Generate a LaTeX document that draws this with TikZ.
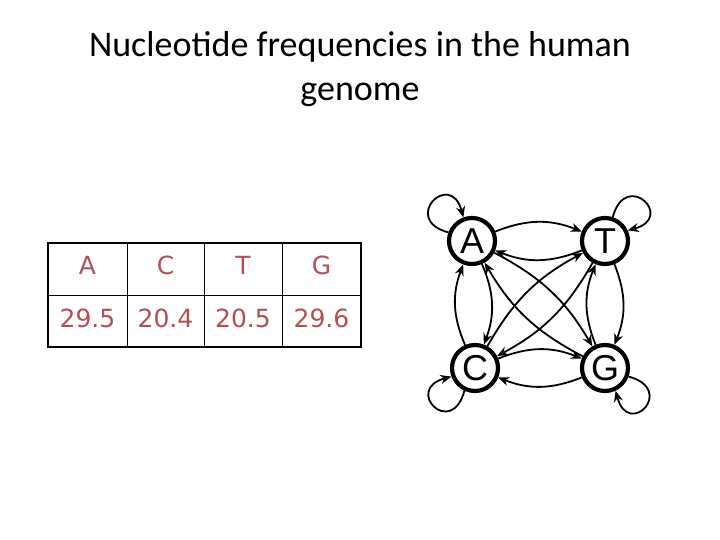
\documentclass[tikz,border=0pt]{standalone}
\usepackage{fontspec}
\setmainfont{Carlito}
\newfontfamily\tabfont{DejaVu Sans}
\newfontfamily\nodefont{Liberation Sans}
\usetikzlibrary{arrows.meta}
\definecolor{tabred}{RGB}{176,80,86}
\begin{document}
\begin{tikzpicture}[x=1pt,y=-1pt,
  nuc/.style={circle,draw,line width=4.2pt,minimum size=46pt,inner sep=0pt,font=\nodefont\fontsize{36}{36}\selectfont},
  edge/.style={line width=1.8pt,-{Stealth[length=11pt,width=9pt]}},
  lett/.style={text=tabred,font=\tabfont\fontsize{25}{25}\selectfont},
  numb/.style={text=tabred,font=\tabfont\fontsize{25}{25}\selectfont},
  title/.style={font=\fontsize{36}{44}\selectfont,align=center}]
\useasboundingbox[fill=white] (0,0) rectangle (720,540);
\node[title] (t) at (360,69) {Nucleotide frequencies in the human\\genome};
% table
\draw[line width=1pt] (127,243) -- (127,347) (204,243) -- (204,347) (282,243) -- (282,347) (48,295) -- (361,295);
\draw[line width=2pt] (48,243) rectangle (361,347);
\node[lett] (lA) at (87.5,265) {A};
\node[lett] (lC) at (165.5,265) {C};
\node[lett] (lT) at (243,265) {T};
\node[lett] (lG) at (321.5,265) {G};
\node[numb] (n1) at (87.5,318) {29.5};
\node[numb] (n2) at (165.5,318) {20.4};
\node[numb] (n3) at (243,318) {20.5};
\node[numb] (n4) at (321.5,318) {29.6};
% graph
\node[nuc] (A) at (472,241) {A};
\node[nuc] (T) at (605,241) {T};
\node[nuc] (C) at (475,368) {C};
\node[nuc] (G) at (605,368) {G};
\draw[edge] (A) to[bend left=22] (T);
\draw[edge] (T) to[bend left=22] (A);
\draw[edge] (A) to[bend left=22] (C);
\draw[edge] (C) to[bend left=22] (A);
\draw[edge] (T) to[bend left=22] (G);
\draw[edge] (G) to[bend left=22] (T);
\draw[edge] (C) to[bend left=22] (G);
\draw[edge] (G) to[bend left=22] (C);
\draw[edge] (A) to[bend left=16] (G);
\draw[edge] (G) to[bend left=16] (A);
\draw[edge] (C) to[bend left=16] (T);
\draw[edge] (T) to[bend left=16] (C);
\draw[edge] (A.160) .. controls +(-165:50) and +(-105:50) .. (A.110);
\draw[edge] (T.72) .. controls +(-75:50) and +(-15:50) .. (T.25);
\draw[edge] (C.245) .. controls +(-255:50) and +(-195:50) .. (C.200);
\draw[edge] (G.340) .. controls +(-345:50) and +(-285:50) .. (G.295);
\end{tikzpicture}
\end{document}
